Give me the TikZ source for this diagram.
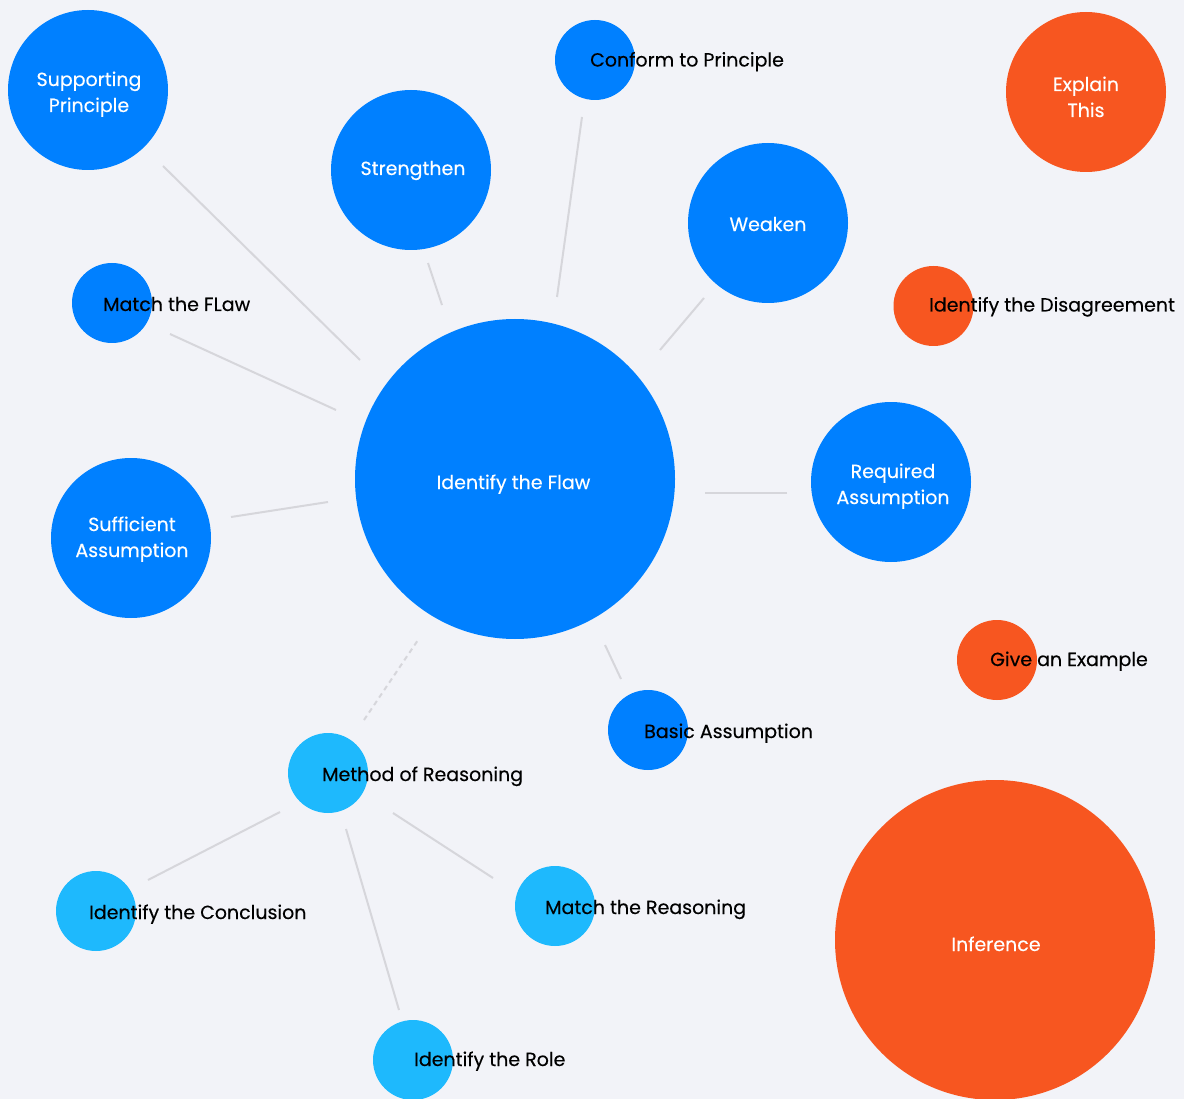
\documentclass[tikz,border=0pt]{standalone}
\usepackage{fontspec}
\setmainfont{Poppins}[FakeBold=0.3]
\usetikzlibrary{calc}
\definecolor{bg}{HTML}{F2F3F8}
\definecolor{cblue}{HTML}{0080FF}
\definecolor{clight}{HTML}{1EB9FD}
\definecolor{corange}{HTML}{F75620}
\definecolor{cline}{HTML}{D6D6DB}
\tikzset{
  big/.style={circle,fill=cblue,draw=none,minimum size=160pt,inner sep=0pt},
  huge/.style={big,minimum size=320pt},
  small/.style={circle,fill=cblue,draw=none,minimum size=80pt,inner sep=0pt},
  txt/.style={anchor=base,inner sep=0pt,text=white,align=center,font=\fontsize{19}{26}\selectfont},
  lbl/.style={anchor=base west,inner sep=0pt,text=black,font=\fontsize{19}{26}\selectfont},
  link/.style={draw=cline,line width=2pt},
}
\begin{document}
\begin{tikzpicture}[x=1pt,y=-1pt]
\fill[bg] (0,0) rectangle (1184,1099);
\useasboundingbox (0,0) rectangle (1184,1099);
% big circles
\node[big] (sp) at (88,90) {};
\node[big] (str) at (411,170) {};
\node[big] (wk) at (768,223) {};
\node[big,fill=corange] (ex) at (1086,92) {};
\node[huge] (flaw) at (515,479) {};
\node[big] (req) at (891,482) {};
\node[big] (suf) at (131,538) {};
\node[huge,fill=corange] (inf) at (995,940) {};
% texts in big circles (base = baseline of the last line)
\node[txt] (spt) at (89,112) {Supporting\\Principle};
\node[txt] (strt) at (413,175) {Strengthen};
\node[txt] (wkt) at (768,231) {Weaken};
\node[txt] (ext) at (1086,117) {Explain\\This};
\node[txt] (flawt) at (513.5,489) {Identify the Flaw};
\node[txt] (reqt) at (893,504) {Required\\Assumption};
\node[txt] (suft) at (132,557) {Sufficient\\Assumption};
\node[txt] (inft) at (996,951) {Inference};
% small circles
\node[small] (cp) at (595,60) {};
\node[small] (mf) at (112,303) {};
\node[small,fill=corange] (dis) at (933.5,306) {};
\node[small,fill=corange] (ge) at (997,660) {};
\node[small] (ba) at (648,730) {};
\node[small,fill=clight] (mr) at (328,773) {};
\node[small,fill=clight] (ic) at (96,911) {};
\node[small,fill=clight] (mre) at (555,906) {};
\node[small,fill=clight] (ir) at (413,1060) {};
% labels
\node[lbl] (cpt) at (590,66.5) {Conform to Principle};
\node[lbl] (mft) at (103,311) {Match the FLaw};
\node[lbl] (dist) at (929,311.5) {Identify the Disagreement};
\node[lbl] (get) at (990,666) {Give an Example};
\node[lbl] (bat) at (644,738) {Basic Assumption};
\node[lbl] (mrt) at (322,781) {Method of Reasoning};
\node[lbl] (ict) at (89,919) {Identify the Conclusion};
\node[lbl] (mret) at (545,914) {Match the Reasoning};
\node[lbl] (irt) at (414,1066) {Identify the Role};
% connectors
\draw[link] ($(sp)+(75,76)$) -- ($(flaw)+(-155,-119)$);
\draw[link] ($(str)+(17,93)$) -- ($(flaw)+(-73,-174)$);
\draw[link] ($(cp)+(-13,57)$) -- ($(flaw)+(42,-182)$);
\draw[link] ($(wk)+(-64,75)$) -- ($(flaw)+(145,-129)$);
\draw[link] ($(mf)+(58,31)$) -- ($(flaw)+(-179,-69)$);
\draw[link] ($(suf)+(100,-21)$) -- ($(flaw)+(-187,23)$);
\draw[link] ($(req)+(-104,11)$) -- ($(flaw)+(190,14)$);
\draw[link] ($(ba)+(-27,-51)$) -- ($(flaw)+(90,166)$);
\draw[link,dash pattern=on 5pt off 4pt] ($(mr)+(36,-53)$) -- ($(flaw)+(-97,161)$);
\draw[link] ($(mr)+(-48,39)$) -- ($(ic)+(52,-31)$);
\draw[link] ($(mr)+(65,40)$) -- ($(mre)+(-62,-28)$);
\draw[link] ($(mr)+(18,56)$) -- ($(ir)+(-14,-50)$);
\end{tikzpicture}
\end{document}
